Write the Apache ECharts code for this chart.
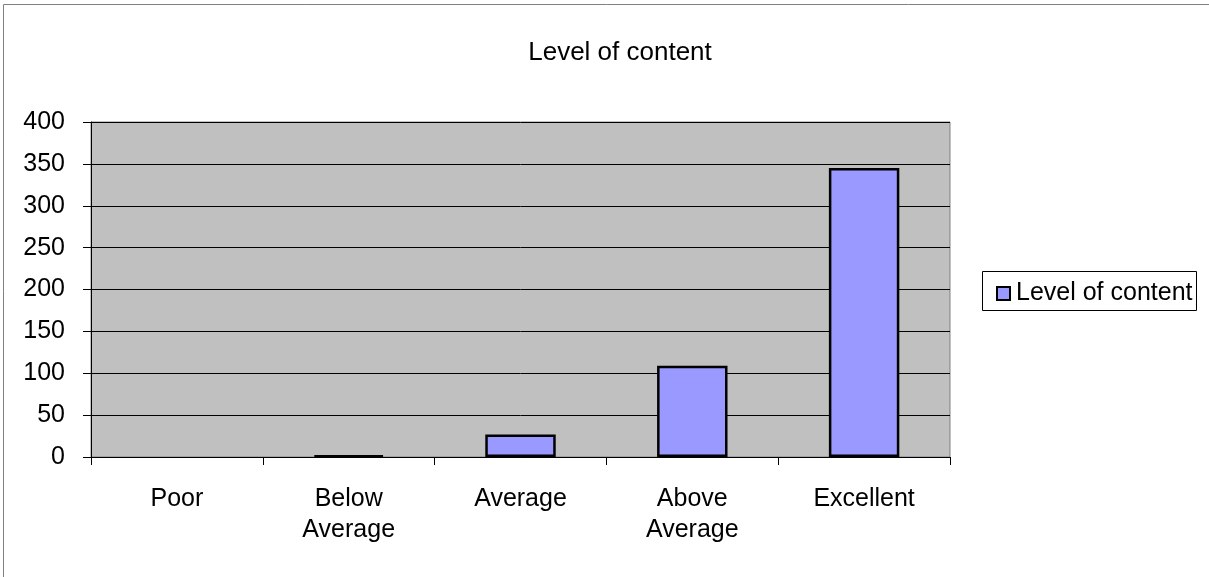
<!DOCTYPE html>
<html>
<head>
<meta charset="utf-8">
<script src="https://cdn.jsdelivr.net/npm/echarts@6/dist/echarts.min.js"></script>
<style>
html,body{margin:0;padding:0;background:#fff;}
#c{width:1209px;height:577px;}
</style>
</head>
<body>
<div id="c"></div>
<script>
const titleText = 'Level of content';
const seriesName = 'Level of content';
const categories = ['Poor', 'Below\nAverage', 'Average', 'Above\nAverage', 'Excellent'];
const values = [0, 2, 27, 109, 345];
const yTicks = { min: 0, max: 400, interval: 50 };

const chart = echarts.init(document.getElementById('c'));
const font = 'Liberation Sans, Arial, sans-serif';
const fs = 25;
chart.setOption({
  animation: false,
  title: {
    text: titleText, left: 615, top: 35, textAlign: 'center',
    textStyle: { fontFamily: font, fontSize: 26, fontWeight: 'normal', color: '#000' }
  },
  graphic: [
    { type: 'rect', shape: { x: 3.5, y: 4.5, width: 1400, height: 800 }, style: { fill: 'none', stroke: '#808080', lineWidth: 1 }, silent: true, z: -10 },
    { type: 'rect', shape: { x: 982.5, y: 271.5, width: 214, height: 39 }, style: { fill: '#fff', stroke: '#000', lineWidth: 1 }, silent: true, z: 0 }
  ],
  legend: {
    data: [seriesName], left: 991, top: 276, orient: 'vertical',
    itemWidth: 13, itemHeight: 13, itemGap: 0, icon: 'rect',
    itemStyle: { borderColor: '#000', borderWidth: 2 },
    textStyle: { fontFamily: font, fontSize: fs, color: '#000', padding: [0, 0, 0, 1] },
    z: 5
  },
  grid: { left: 91, top: 122, right: 259, bottom: 120, show: true, backgroundColor: '#C0C0C0', borderColor: '#808080', borderWidth: 1 },
  xAxis: {
    type: 'category', data: categories,
    axisLine: { lineStyle: { color: '#000', width: 1 } },
    axisTick: { show: true, length: 8, lineStyle: { color: '#000' } },
    axisLabel: { fontFamily: font, fontSize: fs, color: '#000', margin: 27, lineHeight: 31, interval: 0 },
    splitLine: { show: false }
  },
  yAxis: {
    type: 'value', min: yTicks.min, max: yTicks.max, interval: yTicks.interval,
    axisLine: { show: true, lineStyle: { color: '#000', width: 1 } },
    axisTick: { show: true, length: 8, lineStyle: { color: '#000' } },
    axisLabel: { fontFamily: font, fontSize: fs, color: '#000', margin: 26 },
    splitLine: { show: true, lineStyle: { color: '#000', width: 1 } }
  },
  series: [{
    name: seriesName, type: 'bar', barWidth: '41%',
    data: values.map(v => v === 0 ? { value: v, itemStyle: { borderWidth: 0 } } : v),
    itemStyle: { color: '#9999FF', borderColor: '#000', borderWidth: 2.5 }
  }]
});
</script>
</body>
</html>
